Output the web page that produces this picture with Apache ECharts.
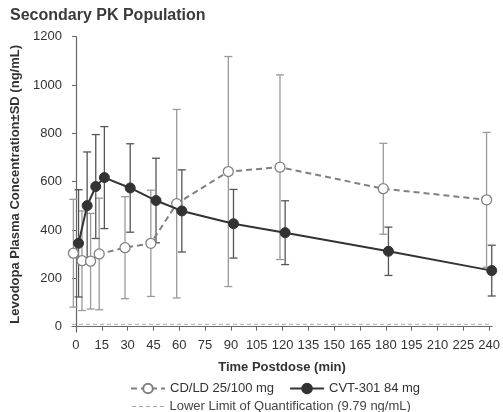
<!DOCTYPE html>
<html>
<head>
<meta charset="utf-8">
<script src="https://cdn.jsdelivr.net/npm/echarts@6/dist/echarts.min.js"></script>
<style>html,body{margin:0;padding:0;background:#fff}#c{width:503px;height:412px}</style>
</head>
<body>
<div id="c"></div>
<script>
const timesCDLD = [0, 5, 10, 15, 30, 45, 60, 90, 120, 180, 240];
const meanCDLD = [304, 273, 271, 301, 327, 345, 509, 642, 660, 571, 525];
const sdCDLD = [223, 206, 198, 231, 211, 220, 390, 476, 382, 188, 279];
const timesCVT = [0, 5, 10, 15, 30, 45, 60, 90, 120, 180, 240];
const meanCVT = [345, 501, 580, 617, 574, 522, 479, 426, 389, 312, 232];
const sdCVT = [222, 222, 215, 211, 183, 175, 170, 142, 132, 100, 105];
const LLOQ = 9.79;
const xTicks = [0, 15, 30, 45, 60, 75, 90, 105, 120, 135, 150, 165, 180, 195, 210, 225, 240];
const yTicks = [0, 200, 400, 600, 800, 1000, 1200];
const nameCDLD = 'CD/LD 25/100 mg';
const nameCVT = 'CVT-301 84 mg';
const nameLLOQ = 'Lower Limit of Quantification (9.79 ng/mL)';

// small horizontal dodge so the two groups do not overlap
const dodgeCDLD = -1.5, dodgeCVT = 1.5;
const xMin = -2.3, xMax = 241.7, yMin = -22, yMax = 1200;

const font = 'Liberation Sans, Arial, Helvetica, sans-serif';
const ptsCDLD = timesCDLD.map((t, i) => [t + dodgeCDLD, meanCDLD[i]]);
const ptsCVT = timesCVT.map((t, i) => [t + dodgeCVT, meanCVT[i]]);
const errCDLD = timesCDLD.map((t, i) => [t + dodgeCDLD, meanCDLD[i] - sdCDLD[i], meanCDLD[i] + sdCDLD[i]]);
const errCVT = timesCVT.map((t, i) => [t + dodgeCVT, meanCVT[i] - sdCVT[i], meanCVT[i] + sdCVT[i]]);

function errRender(color, w) {
  return function (params, api) {
    const x = api.value(0), lo = api.value(1), hi = api.value(2);
    const a = api.coord([x, hi]), b = api.coord([x, lo]);
    const st = { stroke: color, lineWidth: 1.3 };
    return {
      type: 'group',
      children: [
        { type: 'line', shape: { x1: a[0], y1: a[1], x2: b[0], y2: b[1] }, style: st },
        { type: 'line', shape: { x1: a[0] - w, y1: a[1], x2: a[0] + w, y2: a[1] }, style: st },
        { type: 'line', shape: { x1: b[0] - w, y1: b[1], x2: b[0] + w, y2: b[1] }, style: st }
      ]
    };
  };
}

const dashIcon = 'path://M0,0h4v1h-4zM7,0h4v1h-4zM14,0h4v1h-4zM21,0h4v1h-4zM28,0h4v1h-4z';

const chart = echarts.init(document.getElementById('c'), null, { renderer: 'canvas' });
chart.setOption({
  animation: false,
  backgroundColor: '#fff',
  textStyle: { fontFamily: font },
  title: {
    text: 'Secondary PK Population', left: 10, top: 8, padding: 0,
    textStyle: { fontFamily: font, fontSize: 16, fontWeight: 'bold', color: '#3a3a3a' }
  },
  grid: { left: 72, right: 10, top: 36.7, bottom: 80 },
  legend: [
    {
      data: [nameCDLD, nameCVT], left: 130, top: 382, itemWidth: 34, itemHeight: 12, itemGap: 15,
      textStyle: { fontFamily: font, fontSize: 13, color: '#333' }, padding: 0
    },
    {
      data: [{ name: nameLLOQ, icon: dashIcon, itemStyle: { color: '#aaa' } }],
      left: 132, top: 400, itemWidth: 33, itemHeight: 1,
      textStyle: { fontFamily: font, fontSize: 13, color: '#444' }, padding: 0
    }
  ],
  xAxis: {
    type: 'value', min: xMin, max: xMax,
    name: 'Time Postdose (min)', nameLocation: 'middle', nameGap: 29,
    nameTextStyle: { fontFamily: font, fontSize: 13, fontWeight: 'bold', color: '#333' },
    axisLine: { show: true, lineStyle: { color: '#666', width: 1.2 } },
    axisTick: { show: true, length: 4, customValues: xTicks, lineStyle: { color: '#666' } },
    axisLabel: { customValues: xTicks, margin: 7, fontSize: 13, color: '#333', fontFamily: font, formatter: v => String(v) },
    splitLine: { show: false }
  },
  yAxis: {
    type: 'value', min: yMin, max: yMax,
    name: 'Levodopa Plasma Concentration±SD (ng/mL)', nameLocation: 'middle', nameGap: 39,
    nameTextStyle: { fontFamily: font, fontSize: 13, fontWeight: 'bold', color: '#333' },
    axisLine: { show: true, lineStyle: { color: '#666', width: 1.2 } },
    axisTick: { show: true, length: 4, customValues: yTicks, lineStyle: { color: '#666' } },
    axisLabel: { customValues: yTicks, margin: 10, fontSize: 13, color: '#333', fontFamily: font, formatter: v => String(v) },
    splitLine: { show: false }
  },
  series: [
    {
      name: nameLLOQ, type: 'line', data: [[xMin, LLOQ], [xMax, LLOQ]], symbol: 'none', showSymbol: false,
      silent: true, z: 0,
      lineStyle: { color: '#aaa', width: 1, type: [4, 3] },
      itemStyle: { color: '#aaa' }
    },
    {
      type: 'custom', name: 'errCDLD', data: errCDLD, z: 1, silent: true,
      renderItem: errRender('#9a9a9a', 4), encode: { x: 0, y: [1, 2] }
    },
    {
      type: 'custom', name: 'errCVT', data: errCVT, z: 1, silent: true,
      renderItem: errRender('#555', 4), encode: { x: 0, y: [1, 2] }
    },
    {
      name: nameCDLD, type: 'line', data: ptsCDLD, z: 2,
      symbol: 'circle', symbolSize: 10, showSymbol: true,
      lineStyle: { color: '#808080', width: 2, type: [6, 4] },
      itemStyle: { color: '#fff', borderColor: '#808080', borderWidth: 1.3 }
    },
    {
      name: nameCVT, type: 'line', data: ptsCVT, z: 3,
      symbol: 'circle', symbolSize: 10, showSymbol: true,
      lineStyle: { color: '#333', width: 2 },
      itemStyle: { color: '#333', borderColor: '#333', borderWidth: 1 }
    }
  ]
});
</script>
</body>
</html>
